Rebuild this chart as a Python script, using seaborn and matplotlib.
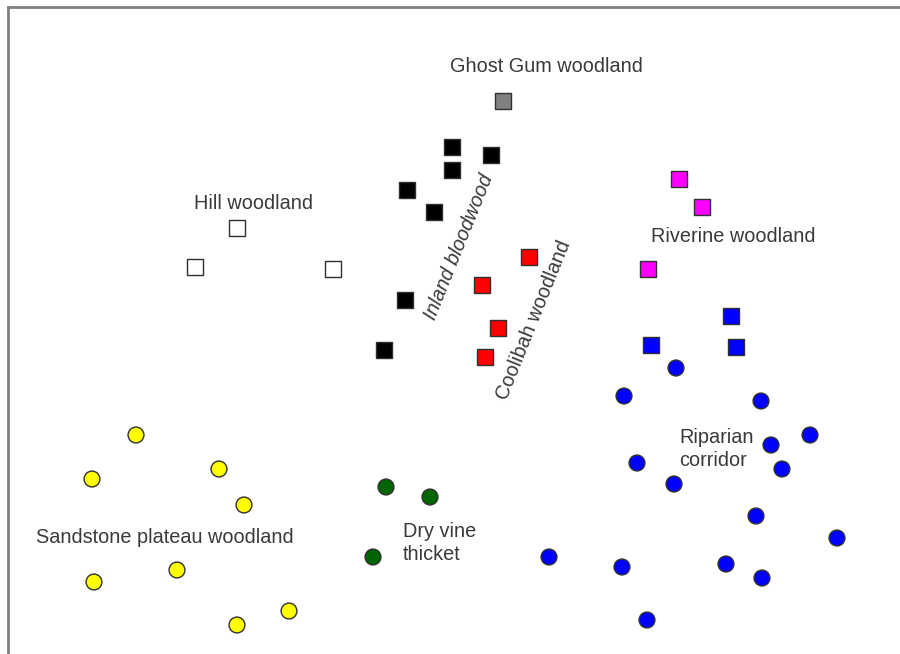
import numpy as np
import pandas as pd
import matplotlib.pyplot as plt
import seaborn as sns

# ordination scores (pixel-like units, y grows downwards)
ghost_x = [503]
ghost_y = [101]
bloodwood_x = [452, 491, 452, 407, 434, 405, 384]
bloodwood_y = [147, 155, 170, 190, 212, 300, 350]
coolibah_x = [529, 482, 498, 485]
coolibah_y = [257, 285, 328, 357]
riverine_x = [679, 702, 648]
riverine_y = [179, 207, 269]
riparian_sq_x = [731, 651, 736]
riparian_sq_y = [316, 345, 347]
hill_x = [237, 195, 333]
hill_y = [228, 267, 269]
riparian_x = [676, 624, 761, 810, 771, 637, 782, 674, 756, 837, 549, 622, 726, 762, 647]
riparian_y = [368, 396, 401, 435, 445, 463, 469, 484, 516, 538, 557, 567, 564, 578, 620]
vine_x = [386, 430, 373]
vine_y = [487, 497, 557]
sandstone_x = [136, 219, 92, 244, 177, 94, 289, 237]
sandstone_y = [435, 469, 479, 505, 570, 582, 611, 625]

groups = {
    "ghost": (ghost_x, ghost_y),
    "bloodwood": (bloodwood_x, bloodwood_y),
    "coolibah": (coolibah_x, coolibah_y),
    "riverine": (riverine_x, riverine_y),
    "riparian_sq": (riparian_sq_x, riparian_sq_y),
    "hill": (hill_x, hill_y),
    "riparian": (riparian_x, riparian_y),
    "vine": (vine_x, vine_y),
    "sandstone": (sandstone_x, sandstone_y),
}
colors = {"ghost": "#808080", "bloodwood": "#000000", "coolibah": "#ff0000",
          "riverine": "#ff00ff", "riparian_sq": "#0000ff", "hill": "#ffffff",
          "riparian": "#0000ff", "vine": "#006400", "sandstone": "#ffff00"}
markers = {"ghost": "s", "bloodwood": "s", "coolibah": "s", "riverine": "s",
           "riparian_sq": "s", "hill": "s", "riparian": "o", "vine": "o",
           "sandstone": "o"}

rows = []
for g, (xs, ys) in groups.items():
    for x, y in zip(xs, ys):
        rows.append({"x": x, "y": y, "group": g})
df = pd.DataFrame(rows)

sns.set_style("white")
plt.rcParams['font.family'] = ['Liberation Sans', 'DejaVu Sans']

fig = plt.figure(figsize=(9, 6.54), dpi=100)
ax = fig.add_axes([8 / 900, 0, 892 / 900, 647 / 654])

sq = df[df.group.map(markers) == "s"]
ci = df[df.group.map(markers) == "o"]
sns.scatterplot(data=sq, x="x", y="y", hue="group", palette=colors, marker="s",
                s=120, edgecolor="#303030", linewidth=1.0, legend=False, ax=ax)
sns.scatterplot(data=ci, x="x", y="y", hue="group", palette=colors, marker="o",
                s=130, edgecolor="#303030", linewidth=1.0, legend=False, ax=ax)

ax.set_xlim(8, 900)
ax.set_ylim(654, 7)
ax.set_xticks([])
ax.set_yticks([])
ax.set_xlabel("")
ax.set_ylabel("")
for side in ["right", "bottom"]:
    ax.spines[side].set_visible(False)
for side in ["top", "left"]:
    ax.spines[side].set_color("#808080")
    ax.spines[side].set_linewidth(2)

tc = "#3a3a3a"
fs = 14.3
ax.text(546, 66, "Ghost Gum woodland", ha="center", va="center", fontsize=fs, color=tc)
ax.text(254, 203, "Hill woodland", ha="center", va="center", fontsize=fs, color=tc)
ax.text(733, 236, "Riverine woodland", ha="center", va="center", fontsize=fs, color=tc)
ax.text(459, 247, "Inland bloodwood", ha="center", va="center", fontsize=fs,
        color=tc, rotation=68, style="italic")
ax.text(534, 320, "Coolibah woodland", ha="center", va="center", fontsize=fs,
        color=tc, rotation=68)
ax.text(679, 449, "Riparian\ncorridor", ha="left", va="center", fontsize=fs,
        color=tc, linespacing=1.3)
ax.text(403, 543, "Dry vine\nthicket", ha="left", va="center", fontsize=fs,
        color=tc, linespacing=1.25)
ax.text(165, 537, "Sandstone plateau woodland", ha="center", va="center",
        fontsize=fs, color=tc)

fig.savefig("out.png", dpi=100)
